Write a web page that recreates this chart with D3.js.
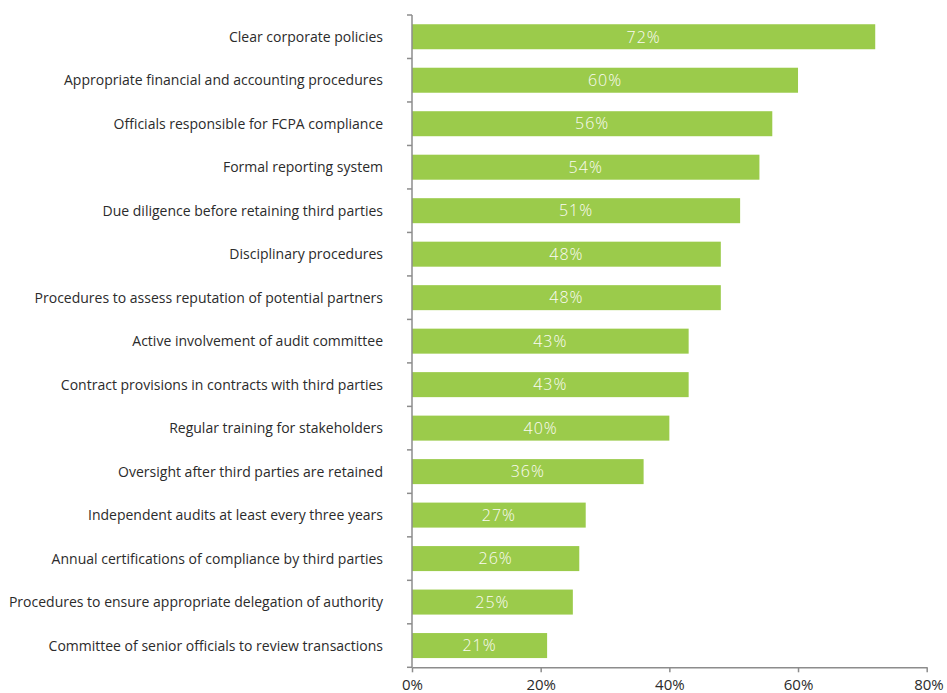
<!DOCTYPE html>
<html>
<head>
<meta charset="utf-8">
<script src="https://cdn.jsdelivr.net/npm/d3@7"></script>
<style>
  html, body { margin: 0; padding: 0; background: #fff; }
  svg { display: block; }
</style>
</head>
<body>
<svg id="chart" width="947" height="693"></svg>
<script>
// Compliance measures and share of respondents (%)
const categories = [
  "Clear corporate policies",
  "Appropriate financial and accounting procedures",
  "Officials responsible for FCPA compliance",
  "Formal reporting system",
  "Due diligence before retaining third parties",
  "Disciplinary procedures",
  "Procedures to assess reputation of potential partners",
  "Active involvement of audit committee",
  "Contract provisions in contracts with third parties",
  "Regular training for stakeholders",
  "Oversight after third parties are retained",
  "Independent audits at least every three years",
  "Annual certifications of compliance by third parties",
  "Procedures to ensure appropriate delegation of authority",
  "Committee of senior officials to review transactions"
];
const values = [72, 60, 56, 54, 51, 48, 48, 43, 43, 40, 36, 27, 26, 25, 21];
const xTicks = [0, 20, 40, 60, 80];

const svg = d3.select("#chart");
const margin = { top: 15, left: 412 };
const xMax = 926.7, yMax = 667.3;

const x = d3.scaleLinear().domain([0, 80]).range([margin.left, xMax]);
const y = d3.scaleBand().domain(categories).range([margin.top, yMax])
  .paddingInner(0.425).paddingOuter(0.2125);

const font = "'Open Sans', 'Noto Sans', sans-serif";
const axisColor = "#8c8c8c";

// Bars
svg.append("g").selectAll("rect")
  .data(categories)
  .join("rect")
  .attr("x", x(0))
  .attr("y", d => y(d))
  .attr("width", (d, i) => x(values[i]) - x(0))
  .attr("height", y.bandwidth())
  .attr("fill", "#9bcb4b");

// Value labels inside bars
svg.append("g").selectAll("text")
  .data(categories)
  .join("text")
  .attr("x", (d, i) => (x(0) + x(values[i])) / 2)
  .attr("y", d => y(d) + y.bandwidth() / 2)
  .attr("dy", "0.36em")
  .attr("text-anchor", "middle")
  .attr("font-family", font)
  .attr("font-size", 16)
  .attr("font-weight", 300)
  .attr("letter-spacing", "1px")
  .attr("fill", "#fbfbf4")
  .text((d, i) => values[i] + "%");

// Category labels
svg.append("g").selectAll("text")
  .data(categories)
  .join("text")
  .attr("x", 383)
  .attr("y", d => y(d) + y.bandwidth() / 2)
  .attr("dy", "0.36em")
  .attr("text-anchor", "end")
  .attr("font-family", font)
  .attr("font-size", 14)
  .attr("fill", "#2b2b2b")
  .text(d => d);

// Vertical axis line with ticks between categories
const yTickPos = d3.range(categories.length + 1)
  .map(i => margin.top + i * (yMax - margin.top) / categories.length);
const yAxisG = svg.append("g");
yAxisG.append("line")
  .attr("x1", x(0)).attr("x2", x(0))
  .attr("y1", margin.top).attr("y2", yMax)
  .attr("stroke", axisColor).attr("stroke-width", 1.5);
yAxisG.selectAll("line.tick")
  .data(yTickPos)
  .join("line")
  .attr("class", "tick")
  .attr("x1", x(0) - 5).attr("x2", x(0))
  .attr("y1", d => d).attr("y2", d => d)
  .attr("stroke", axisColor).attr("stroke-width", 1.5);

// Horizontal axis
const xAxis = d3.axisBottom(x)
  .tickValues(xTicks)
  .tickFormat(d => d + "%")
  .tickSize(5)
  .tickPadding(7)
  .tickSizeOuter(0);
const xg = svg.append("g")
  .attr("transform", `translate(0,${yMax})`)
  .call(xAxis);
xg.select(".domain").attr("stroke", axisColor).attr("stroke-width", 1.5);
xg.selectAll(".tick line").attr("stroke", axisColor).attr("stroke-width", 1.5);
xg.selectAll(".tick text")
  .attr("font-family", font)
  .attr("font-size", 15)
  .attr("fill", "#2b2b2b");
xg.select(".tick:last-of-type text").attr("text-anchor", "end").attr("dx", "1.1em");
</script>
</body>
</html>
